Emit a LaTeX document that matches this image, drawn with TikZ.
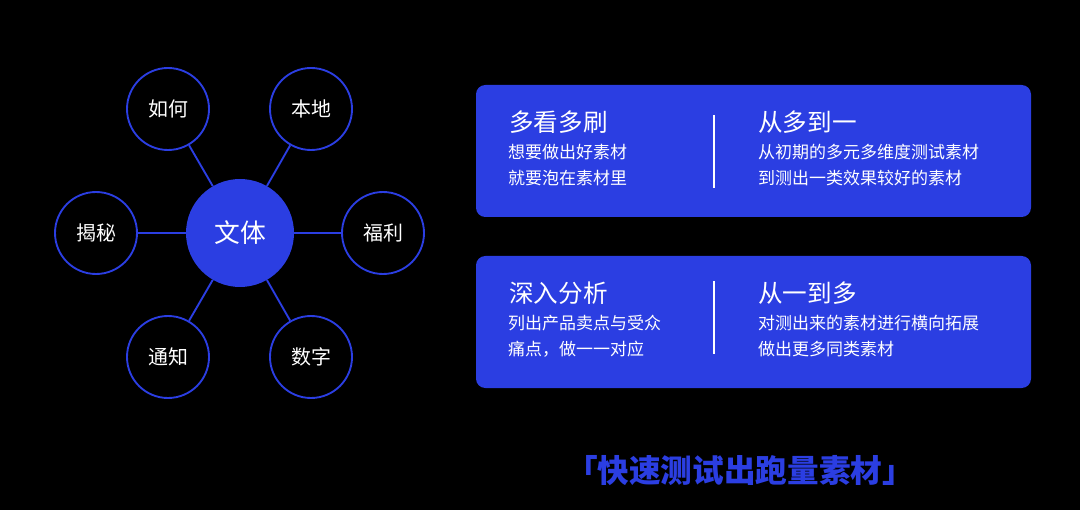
\documentclass[tikz,border=0pt]{standalone}
\usepackage{fontspec}
\setmainfont{Noto Sans CJK SC}
\usetikzlibrary{positioning}
\definecolor{bblue}{RGB}{43,62,226}
\tikzstyle{hub} = [circle, fill=bblue, minimum size=108*0.03cm, inner sep=0pt, text=white, font=\fontsize{22}{24}\selectfont]
\tikzstyle{leaf} = [circle, draw=bblue, line width=1.6pt, fill=black, minimum size=82*0.03cm, inner sep=0pt, text=white, font=\fontsize{17}{20}\selectfont]
\tikzstyle{link} = [bblue, line width=1.6pt]
\tikzstyle{panel} = [fill=bblue, rounded corners=8pt]
\tikzstyle{title} = [anchor=west, text=white, inner sep=0pt, font=\fontsize{21}{24}\selectfont]
\tikzstyle{body} = [anchor=north west, text=white, inner sep=0pt, align=left, font=\fontsize{14.5}{22}\selectfont]
\tikzstyle{divider} = [white, line width=1.5pt]
\begin{document}
\begin{tikzpicture}[x=0.03cm, y=-0.03cm]
	\fill[black] (0,0) rectangle (1080,510);
	\useasboundingbox (0,0) rectangle (1080,510);
	
	% hub and leaves
	\node [hub] (c) at (240,233) {文体};
	\node [leaf] (l1) at (168,109) {如何};
	\node [leaf] (l2) at (311,109) {本地};
	\node [leaf] (l3) at (96,233) {揭秘};
	\node [leaf] (l4) at (383,233) {福利};
	\node [leaf] (l5) at (168,357) {通知};
	\node [leaf] (l6) at (311,357) {数字};
	\foreach \l in {l1,l2,l3,l4,l5,l6}
		\draw [link] (c) -- (\l);
	
	% panels
	\fill [panel] (476,85) rectangle (1031,217);
	\fill [panel] (476,256) rectangle (1031,388);
	\coordinate (d1a) at (714,115);
	\coordinate (d1b) at (714,188);
	\coordinate (d2a) at (714,281);
	\coordinate (d2b) at (714,354);
	\draw [divider] (d1a) -- (d1b);
	\draw [divider] (d2a) -- (d2b);
	
	\node [title] (t1) at (509,122) {多看多刷};
	\node [body] (b1) at (508,144) {想要做出好素材\\就要泡在素材里};
	\node [title] (t2) at (758,122) {从多到一};
	\node [body] (b2) at (758,144) {从初期的多元多维度测试素材\\到测出一类效果较好的素材};
	\node [title] (t3) at (509,293) {深入分析};
	\node [body] (b3) at (508,315) {列出产品卖点与受众\\痛点，做一一对应};
	\node [title] (t4) at (758,293) {从一到多};
	\node [body] (b4) at (758,315) {对测出来的素材进行横向拓展\\做出更多同类素材};
	
	\node [text=bblue, font=\bfseries\fontsize{27}{30}\selectfont] (slogan) at (740,471) {「快速测试出跑量素材」};
\end{tikzpicture}
\end{document}
